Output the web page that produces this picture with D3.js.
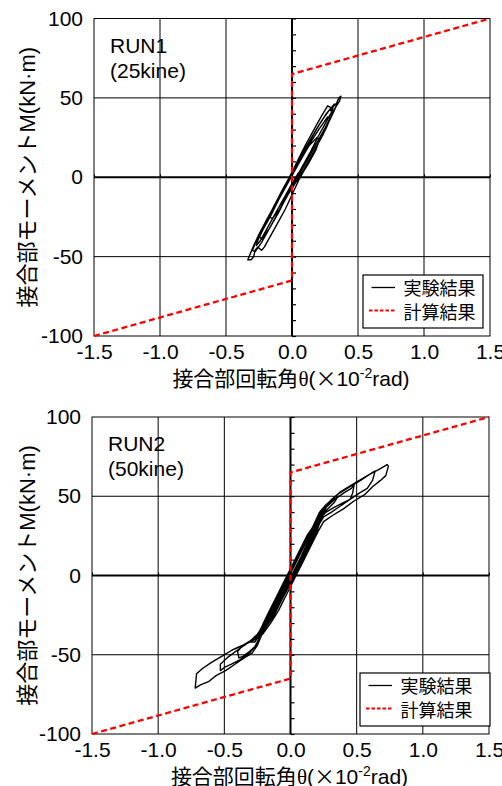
<!DOCTYPE html>
<html>
<head>
<meta charset="utf-8">
<script src="https://cdn.jsdelivr.net/npm/d3@7"></script>
<style>
  body { margin: 0; background: #fff; }
  svg { display: block; font-family: "Liberation Sans", Arial, "Noto Sans CJK JP", sans-serif; }
</style>
</head>
<body>
<svg width="502" height="786"></svg>
<script>
// tick labels
const thetaTicks = [-1.5, -1.0, -0.5, 0.0, 0.5, 1.0, 1.5];
const momentTicks = [-100, -50, 0, 50, 100];
const gridTheta = [-1.0, -0.5, 0.5, 1.0];
const gridMoment = [-50, 50];

// calculated result (red dashed)
const calcTheta = [-1.5, 0.0, 0.0, 1.5];
const calcMoment = [-100, -65, 65, 100];

const legendNames = ["実験結果", "計算結果"];

// RUN1 measured loop  [theta(x10^-2 rad), M(kN.m)]
const run1Loop = [
  [0.00, 0], [0.00, -6], [0.06, 0], [0.12, 8], [0.18, 17], [0.21, 24], [0.19, 25], [0.13, 20],
  [0.06, 10], [0.00, 1], [-0.06, -8], [-0.13, -18], [-0.17, -25], [-0.15, -26], [-0.09, -20],
  [-0.03, -11],
  [0.03, -3], [0.09, 5], [0.15, 14], [0.21, 23], [0.26, 31], [0.29, 37], [0.27, 38], [0.21, 31],
  [0.14, 22], [0.07, 12], [0.00, 2], [-0.07, -8], [-0.14, -19], [-0.20, -28], [-0.25, -37],
  [-0.23, -39], [-0.17, -32], [-0.11, -23], [-0.05, -13],
  [0.01, -4], [0.07, 4], [0.13, 13], [0.19, 22], [0.25, 31], [0.30, 39], [0.33, 44], [0.36, 48],
  [0.37, 51], [0.355, 50], [0.34, 47], [0.31, 44], [0.30, 41], [0.29, 44], [0.27, 45], [0.22, 38],
  [0.16, 29], [0.10, 20], [0.04, 10], [-0.02, 0], [-0.08, -9], [-0.14, -19], [-0.20, -28],
  [-0.25, -36], [-0.29, -43], [-0.31, -47], [-0.33, -51], [-0.335, -52], [-0.31, -52], [-0.29, -50],
  [-0.28, -46], [-0.26, -44], [-0.23, -46], [-0.21, -44], [-0.17, -38], [-0.11, -29], [-0.05, -20],
  [0.00, -11],
  [0.05, -2], [0.11, 7], [0.17, 17], [0.23, 26], [0.28, 35], [0.32, 42], [0.34, 46], [0.32, 46],
  [0.26, 40], [0.19, 31], [0.12, 21], [0.05, 11], [-0.01, 1], [-0.07, -8], [-0.13, -17],
  [-0.19, -27], [-0.24, -35], [-0.28, -42], [-0.30, -46], [-0.28, -47], [-0.23, -41], [-0.17, -32],
  [-0.10, -22], [-0.04, -12],
  [0.02, -2], [0.08, 7], [0.14, 16], [0.20, 26], [0.26, 35], [0.30, 41], [0.31, 43], [0.28, 42],
  [0.22, 35], [0.15, 25], [0.08, 15], [0.02, 5], [-0.04, -5], [-0.10, -14], [-0.16, -24],
  [-0.22, -33], [-0.26, -40], [-0.27, -43], [-0.24, -40], [-0.18, -31], [-0.12, -22], [-0.06, -13],
  [0.00, -4], [0.05, 3]
];

// RUN2 measured loop
const run2Loop = [
  [0.00, 0], [0.00, -5], [0.05, 2], [0.10, 10], [0.16, 20], [0.20, 28], [0.22, 33], [0.19, 33],
  [0.13, 26], [0.07, 16], [0.01, 6], [-0.05, -4], [-0.11, -14], [-0.17, -24], [-0.21, -31],
  [-0.19, -33], [-0.13, -26], [-0.07, -16], [-0.02, -8],
  [0.04, 0], [0.10, 10], [0.16, 21], [0.21, 31], [0.25, 39], [0.27, 43], [0.32, 47], [0.40, 52],
  [0.46, 55], [0.48, 57], [0.47, 52], [0.45, 48], [0.40, 46], [0.33, 43], [0.27, 40], [0.22, 36],
  [0.16, 28], [0.10, 18], [0.04, 8], [-0.02, -2], [-0.08, -12], [-0.14, -22], [-0.20, -31],
  [-0.25, -37], [-0.30, -41], [-0.36, -44], [-0.40, -48], [-0.39, -52], [-0.36, -51], [-0.31, -48],
  [-0.27, -45], [-0.22, -38], [-0.17, -29], [-0.11, -19], [-0.05, -9],
  [0.01, -3], [0.07, 7], [0.13, 17], [0.19, 28], [0.24, 38], [0.27, 44], [0.31, 48], [0.38, 53],
  [0.46, 57], [0.54, 61], [0.60, 64], [0.64, 66], [0.62, 60], [0.58, 55], [0.52, 52], [0.45, 48],
  [0.38, 44], [0.31, 40], [0.25, 37], [0.20, 30], [0.14, 20], [0.08, 10], [0.02, 0], [-0.04, -10],
  [-0.10, -20], [-0.16, -29], [-0.21, -36], [-0.26, -40], [-0.33, -43], [-0.40, -47], [-0.48, -52],
  [-0.53, -56], [-0.53, -60], [-0.50, -58], [-0.45, -56], [-0.38, -53], [-0.31, -49], [-0.27, -45],
  [-0.22, -37], [-0.17, -28], [-0.11, -18], [-0.05, -8],
  [0.00, -2], [0.06, 8], [0.12, 18], [0.18, 29], [0.23, 39], [0.26, 44], [0.30, 47], [0.37, 52],
  [0.45, 56], [0.53, 60], [0.60, 64], [0.67, 67], [0.73, 70], [0.74, 69], [0.72, 63], [0.68, 60],
  [0.62, 56], [0.56, 51], [0.48, 47], [0.40, 42], [0.32, 38], [0.25, 34], [0.21, 28], [0.15, 18],
  [0.09, 8], [0.03, -2], [-0.03, -12], [-0.09, -22], [-0.15, -30], [-0.21, -37], [-0.28, -40],
  [-0.36, -44], [-0.44, -47], [-0.52, -51], [-0.60, -55], [-0.67, -59], [-0.71, -62], [-0.72, -71],
  [-0.68, -69], [-0.62, -67], [-0.56, -63], [-0.49, -60], [-0.42, -56], [-0.35, -52], [-0.29, -49],
  [-0.25, -44], [-0.21, -36], [-0.16, -27], [-0.10, -17], [-0.04, -7],
  [0.02, 0], [0.08, 10], [0.14, 21], [0.20, 32], [0.25, 41], [0.30, 46], [0.36, 50], [0.33, 46],
  [0.27, 41], [0.22, 35], [0.16, 25], [0.10, 15], [0.04, 5], [-0.02, -5], [-0.08, -15],
  [-0.14, -25], [-0.20, -33], [-0.26, -39], [-0.30, -42], [-0.27, -42], [-0.22, -36], [-0.16, -26],
  [-0.10, -16], [-0.04, -6],
  [0.02, 2], [0.08, 12], [0.14, 23], [0.19, 33], [0.23, 40], [0.25, 43], [0.22, 40], [0.17, 31],
  [0.11, 21], [0.05, 11], [-0.01, 1], [-0.07, -9], [-0.13, -19], [-0.19, -28], [-0.24, -36],
  [-0.26, -39], [-0.22, -35], [-0.16, -25], [-0.10, -15], [-0.04, -4], [0.00, 3]
];

const panels = [
  { x: 94, y: 18.5, w: 396, h: 317.5, name: "RUN1", speed: "(25kine)", loop: run1Loop,
    legend: { x: 269, y: 256.5, w: 120, h: 53 } },
  { x: 92, y: 417, w: 397, h: 317, name: "RUN2", speed: "(50kine)", loop: run2Loop,
    legend: { x: 268, y: 256, w: 130, h: 53 } }
];

const svg = d3.select("svg");

panels.forEach(p => {
  const g = svg.append("g").attr("transform", `translate(${p.x},${p.y})`);

  const x = d3.scaleLinear().domain([-1.5, 1.5]).range([0, p.w]);
  const y = d3.scaleLinear().domain([-100, 100]).range([p.h, 0]);

  // grid
  g.selectAll(".gx").data(gridTheta).enter().append("line")
    .attr("x1", d => x(d)).attr("x2", d => x(d))
    .attr("y1", 0).attr("y2", p.h)
    .attr("stroke", "#000").attr("stroke-width", 1);
  g.selectAll(".gy").data(gridMoment).enter().append("line")
    .attr("x1", 0).attr("x2", p.w)
    .attr("y1", d => y(d)).attr("y2", d => y(d))
    .attr("stroke", "#000").attr("stroke-width", 1);

  // zero axes with small ticks
  const zx = g.append("g").attr("transform", `translate(${x(0)},0)`)
    .call(d3.axisRight(y).ticks(20).tickSize(4).tickFormat(""));
  zx.select(".domain").remove();
  zx.selectAll("line").attr("stroke-width", 1.2);
  const zy = g.append("g").attr("transform", `translate(0,${y(0)})`)
    .call(d3.axisTop(x).tickValues(thetaTicks).tickSize(3).tickFormat(""));
  zy.select(".domain").remove();

  g.append("line").attr("x1", 0).attr("x2", p.w).attr("y1", y(0)).attr("y2", y(0))
    .attr("stroke", "#000").attr("stroke-width", 2);
  g.append("line").attr("x1", x(0)).attr("x2", x(0)).attr("y1", 0).attr("y2", p.h)
    .attr("stroke", "#000").attr("stroke-width", 2);

  // frame
  g.append("rect").attr("width", p.w).attr("height", p.h)
    .attr("fill", "none").attr("stroke", "#000").attr("stroke-width", 1);

  // outer axes
  const ay = g.append("g")
    .call(d3.axisLeft(y).tickValues(momentTicks).tickSize(0).tickPadding(11).tickFormat(d => String(d)));
  ay.select(".domain").remove();
  ay.selectAll("text").attr("font-size", 21).attr("font-family", "Liberation Sans, Arial, sans-serif").attr("fill", "#000");

  const ax = g.append("g").attr("transform", `translate(0,${p.h})`)
    .call(d3.axisBottom(x).tickValues(thetaTicks).tickSize(0).tickPadding(8).tickFormat(d => d.toFixed(1)));
  ax.select(".domain").remove();
  ax.selectAll("text").attr("font-size", 21).attr("font-family", "Liberation Sans, Arial, sans-serif").attr("fill", "#000");

  // measured loop
  const line = d3.line().x(d => x(d[0])).y(d => y(d[1]));
  g.append("path").datum(p.loop)
    .attr("d", line)
    .attr("fill", "none").attr("stroke", "#000").attr("stroke-width", 1.4)
    .attr("stroke-linejoin", "round");

  // calculated
  const calc = calcTheta.map((t, i) => [t, calcMoment[i]]);
  g.append("path").datum(calc)
    .attr("d", line)
    .attr("fill", "none").attr("stroke", "#ff0000").attr("stroke-width", 2.3)
    .attr("stroke-dasharray", "6,3.5");

  // run label
  g.append("text").attr("x", 16).attr("y", 34).attr("font-size", 21).text(p.name);
  g.append("text").attr("x", 16).attr("y", 59).attr("font-size", 21).text(p.speed);

  // legend
  const lg = g.append("g").attr("transform", `translate(${p.legend.x},${p.legend.y})`);
  lg.append("rect").attr("width", p.legend.w).attr("height", p.legend.h)
    .attr("fill", "#fff").attr("stroke", "#000").attr("stroke-width", 1.2);
  lg.append("line").attr("x1", 8.5).attr("x2", 32).attr("y1", 12.5).attr("y2", 12.5)
    .attr("stroke", "#000").attr("stroke-width", 1.3);
  lg.append("line").attr("x1", 6).attr("x2", 32).attr("y1", 35.5).attr("y2", 35.5)
    .attr("stroke", "#ff0000").attr("stroke-width", 2).attr("stroke-dasharray", "3.5,2");
  lg.selectAll(".lt").data(legendNames).enter().append("text")
    .attr("x", 40.5).attr("y", (d, i) => 19.5 + i * 24)
    .attr("font-size", 18).attr("font-family", "Noto Sans CJK JP, sans-serif")
    .text(d => d);

  // axis titles
  const xt = svg.append("text")
    .attr("x", p.x + p.w / 2 - 1).attr("y", p.y + p.h + 49.5)
    .attr("text-anchor", "middle").attr("font-size", 21);
  xt.append("tspan").attr("font-family", "Noto Sans CJK JP, sans-serif").text("接合部回転角");
  xt.append("tspan").attr("font-family", "Liberation Serif, serif").text("θ");
  xt.append("tspan").text("(");
  xt.append("tspan").attr("font-family", "Noto Sans CJK JP, sans-serif").text("×");
  xt.append("tspan").text("10");
  xt.append("tspan").attr("font-size", 14).attr("dy", -8).text("-2");
  xt.append("tspan").attr("dy", 8).text("rad)");

  const yt = svg.append("text")
    .attr("transform", `translate(35,${p.y + p.h / 2}) rotate(-90)`)
    .attr("text-anchor", "middle").attr("font-size", 22);
  yt.append("tspan").attr("font-family", "Noto Sans CJK JP, sans-serif").text("接合部モーメント");
  yt.append("tspan").text("M(kN·m)");
});
</script>
</body>
</html>
